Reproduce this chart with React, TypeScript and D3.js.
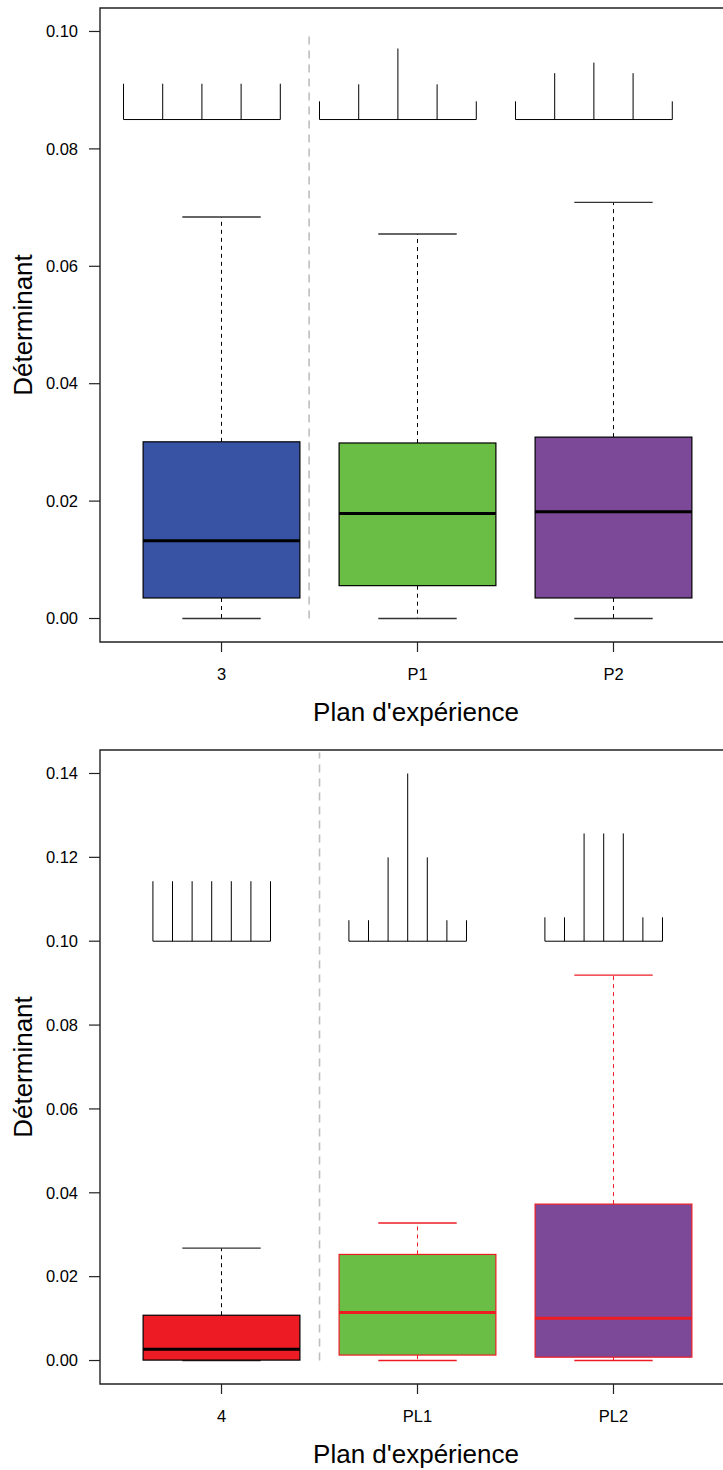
import React from 'react';
import * as d3 from 'd3';

// ---------- Top panel data ----------
const topCategories = ['3', 'P1', 'P2'];
const topLowerWhisker = [0.0, 0.0, 0.0];
const topQ1 = [0.0035, 0.0056, 0.0035];
const topMedian = [0.01325, 0.0179, 0.0182];
const topQ3 = [0.0301, 0.0299, 0.0309];
const topUpperWhisker = [0.0684, 0.0655, 0.0709];
const topFill = ['#3953A4', '#6ABD45', '#7C4898'];
const topStroke = ['#000000', '#000000', '#000000'];
const topMedianColor = ['#000000', '#000000', '#000000'];
const topYTicks = [0, 0.02, 0.04, 0.06, 0.08, 0.1];
const topYDomain = [-0.004, 0.104];
const topCombBase = 0.085;
const topCombStartOffset = -0.5;
const topCombStep = 0.2;
const topCombTeeth = [
  [0.0911, 0.0911, 0.0911, 0.0911, 0.0911],
  [0.0881, 0.091, 0.0971, 0.091, 0.0881],
  [0.0881, 0.0929, 0.0947, 0.0929, 0.0881],
];
const topSeparatorX = 1.447;
const topSeparatorRange = [0, 0.0993];

// ---------- Bottom panel data ----------
const botCategories = ['4', 'PL1', 'PL2'];
const botLowerWhisker = [0.0, 0.0, 0.0];
const botQ1 = [0.0001, 0.0013, 0.0008];
const botMedian = [0.0027, 0.01146, 0.0101];
const botQ3 = [0.0108, 0.0253, 0.0373];
const botUpperWhisker = [0.0268, 0.0328, 0.0919];
const botFill = ['#ED1C24', '#6ABD45', '#7C4898'];
const botStroke = ['#000000', '#ED1C24', '#ED1C24'];
const botMedianColor = ['#000000', '#ED1C24', '#ED1C24'];
const botYTicks = [0, 0.02, 0.04, 0.06, 0.08, 0.1, 0.12, 0.14];
const botYDomain = [-0.0056, 0.1456];
const botCombBase = 0.1;
const botCombStartOffset = -0.35;
const botCombStep = 0.1;
const botCombTeeth = [
  [0.1143, 0.1143, 0.1143, 0.1143, 0.1143, 0.1143, 0.1143],
  [0.105, 0.105, 0.12, 0.14, 0.12, 0.105, 0.105],
  [0.1057, 0.1057, 0.1257, 0.1257, 0.1257, 0.1057, 0.1057],
];
const botSeparatorX = 1.5;
const botSeparatorRange = [0, 0.145];

const xLabel = "Plan d'expérience";
const yLabel = 'Déterminant';

const FONT = '"Liberation Sans", Arial, Helvetica, sans-serif';

type PanelProps = {
  top: number;
  bottom: number;
  categories: string[];
  lw: number[];
  q1: number[];
  med: number[];
  q3: number[];
  uw: number[];
  fill: string[];
  stroke: string[];
  medColor: string[];
  yTicks: number[];
  yDomain: number[];
  combBase: number;
  combStart: number;
  combStep: number;
  combTeeth: number[][];
  sepX: number;
  sepRange: number[];
};

function Panel(p: PanelProps) {
  const left = 100;
  const x = d3.scaleLinear().domain([0.38, 3.62]).range([left, 735]);
  const y = d3.scaleLinear().domain(p.yDomain).range([p.bottom, p.top]);
  const boxHalf = 0.4;
  const capHalf = 0.2;
  const fmt = d3.format('.2f');

  return (
    <g>
      {/* separator */}
      <line
        x1={x(p.sepX)}
        x2={x(p.sepX)}
        y1={y(p.sepRange[0])}
        y2={y(p.sepRange[1])}
        stroke="#BEBEBE"
        strokeWidth={1.6}
        strokeDasharray="8,6"
      />
      {/* combs */}
      {p.combTeeth.map((teeth, i) => {
        const c = i + 1;
        const xs = teeth.map((_, k) => x(c + p.combStart + k * p.combStep));
        return (
          <g key={'comb' + i}>
            <line
              x1={xs[0]}
              x2={xs[xs.length - 1]}
              y1={y(p.combBase)}
              y2={y(p.combBase)}
              stroke="#000"
              strokeWidth={1}
            />
            {teeth.map((t, k) => (
              <line
                key={k}
                x1={xs[k]}
                x2={xs[k]}
                y1={y(p.combBase)}
                y2={y(t)}
                stroke="#000"
                strokeWidth={1}
              />
            ))}
          </g>
        );
      })}
      {/* boxes */}
      {p.categories.map((cat, i) => {
        const c = i + 1;
        const cx = x(c);
        const wc = p.stroke[i] === '#000000' ? '#000' : p.stroke[i];
        const cc = p.stroke[i] === '#000000' ? '#333' : p.stroke[i];
        return (
          <g key={cat}>
            <line x1={cx} x2={cx} y1={y(p.q3[i])} y2={y(p.uw[i])} stroke={wc} strokeWidth={1} strokeDasharray="4,4" />
            <line x1={cx} x2={cx} y1={y(p.q1[i])} y2={y(p.lw[i])} stroke={wc} strokeWidth={1} strokeDasharray="4,4" />
            <line x1={x(c - capHalf)} x2={x(c + capHalf)} y1={y(p.uw[i])} y2={y(p.uw[i])} stroke={cc} strokeWidth={1.3} />
            <line x1={x(c - capHalf)} x2={x(c + capHalf)} y1={y(p.lw[i])} y2={y(p.lw[i])} stroke={cc} strokeWidth={1.3} />
            <rect
              x={x(c - boxHalf)}
              y={y(p.q3[i])}
              width={x(c + boxHalf) - x(c - boxHalf)}
              height={y(p.q1[i]) - y(p.q3[i])}
              fill={p.fill[i]}
              stroke={p.stroke[i]}
              strokeWidth={1.2}
            />
            <line x1={x(c - boxHalf)} x2={x(c + boxHalf)} y1={y(p.med[i])} y2={y(p.med[i])} stroke={p.medColor[i]} strokeWidth={3} />
          </g>
        );
      })}
      {/* frame (left, top, bottom; right clipped by page) */}
      <path
        d={`M735,${p.top}H${left}V${p.bottom}H735`}
        fill="none"
        stroke="#222"
        strokeWidth={1.4}
      />
      {/* y axis ticks */}
      {p.yTicks.map((t) => (
        <g key={'yt' + t}>
          <line x1={left - 11} x2={left} y1={y(t)} y2={y(t)} stroke="#222" strokeWidth={1.2} />
          <text
            x={left - 22}
            y={y(t)}
            dy="0.35em"
            textAnchor="end"
            fontFamily={FONT}
            fontSize={16.5}
            fill="#000"
          >
            {fmt(t)}
          </text>
        </g>
      ))}
      {/* x axis ticks */}
      {p.categories.map((cat, i) => (
        <g key={'xt' + cat}>
          <line x1={x(i + 1)} x2={x(i + 1)} y1={p.bottom} y2={p.bottom + 10} stroke="#222" strokeWidth={1.2} />
          <text
            x={x(i + 1)}
            y={p.bottom + 38}
            textAnchor="middle"
            fontFamily={FONT}
            fontSize={16.5}
            fill="#000"
          >
            {cat}
          </text>
        </g>
      ))}
      {/* axis titles */}
      <text
        x={416}
        y={p.bottom + 79}
        textAnchor="middle"
        fontFamily={FONT}
        fontSize={26}
        fill="#000"
      >
        {xLabel}
      </text>
      <text
        transform={`translate(32,${(p.top + p.bottom) / 2}) rotate(-90)`}
        textAnchor="middle"
        fontFamily={FONT}
        fontSize={26}
        fill="#000"
      >
        {yLabel}
      </text>
    </g>
  );
}

export default function App() {
  return (
    <svg
      width={723}
      height={1470}
      style={{ position: 'absolute', left: 0, top: 0, display: 'block', background: '#fff' }}
    >
      <rect width={723} height={1470} fill="#fff" />
      <Panel
        top={8}
        bottom={642}
        categories={topCategories}
        lw={topLowerWhisker}
        q1={topQ1}
        med={topMedian}
        q3={topQ3}
        uw={topUpperWhisker}
        fill={topFill}
        stroke={topStroke}
        medColor={topMedianColor}
        yTicks={topYTicks}
        yDomain={topYDomain}
        combBase={topCombBase}
        combStart={topCombStartOffset}
        combStep={topCombStep}
        combTeeth={topCombTeeth}
        sepX={topSeparatorX}
        sepRange={topSeparatorRange}
      />
      <Panel
        top={750}
        bottom={1384}
        categories={botCategories}
        lw={botLowerWhisker}
        q1={botQ1}
        med={botMedian}
        q3={botQ3}
        uw={botUpperWhisker}
        fill={botFill}
        stroke={botStroke}
        medColor={botMedianColor}
        yTicks={botYTicks}
        yDomain={botYDomain}
        combBase={botCombBase}
        combStart={botCombStartOffset}
        combStep={botCombStep}
        combTeeth={botCombTeeth}
        sepX={botSeparatorX}
        sepRange={botSeparatorRange}
      />
    </svg>
  );
}
